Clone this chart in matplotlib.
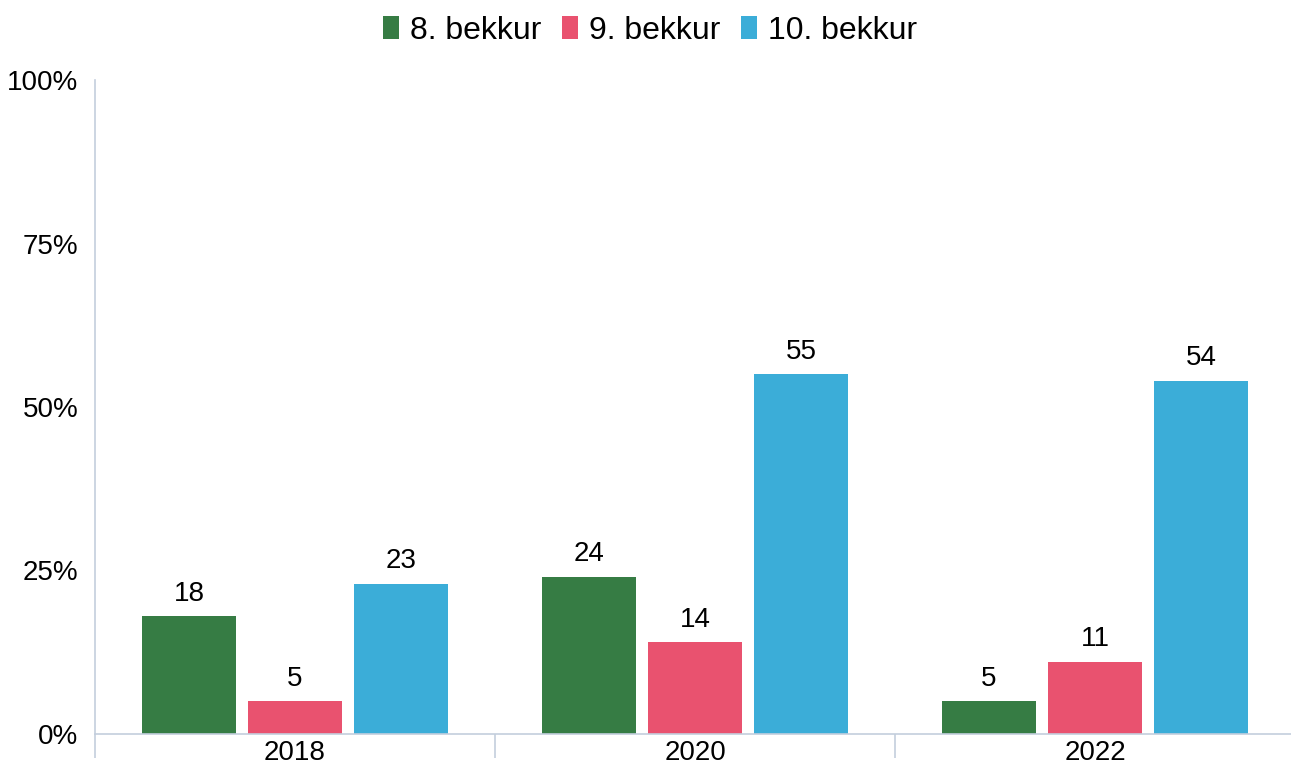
import numpy as np
import matplotlib.pyplot as plt

plt.rcParams['font.family'] = ['Liberation Sans', 'DejaVu Sans']

# data
years = ['2018', '2020', '2022']
series = ['8. bekkur', '9. bekkur', '10. bekkur']
bekkur8 = [18, 24, 5]
bekkur9 = [5, 14, 11]
bekkur10 = [23, 55, 54]
colors = ['#367c44', '#e9526f', '#3badd8']

axis_col = '#c3cedd'

fig = plt.figure(figsize=(12.91, 7.64), dpi=100)
W, H = 1291, 764
ax = fig.add_axes([95 / W, (H - 734) / H, 1200 / W, (734 - 80) / H])

x = np.arange(len(years))
bw = 0.235
step = 0.265
for i, (vals, name, c) in enumerate(zip([bekkur8, bekkur9, bekkur10], series, colors)):
    xs = x + (i - 1) * step
    ax.bar(xs, vals, width=bw, color=c, label=name, zorder=2)
    for xx, v in zip(xs, vals):
        ax.annotate(str(v), (xx, v), xytext=(0, 7), textcoords='offset points',
                    ha='center', va='bottom', fontsize=20)

ax.set_xlim(-0.5, 2.5)
ax.set_ylim(0, 100)
ax.set_yticks([0, 25, 50, 75, 100])
ax.set_yticklabels(['0%', '25%', '50%', '75%', '100%'], fontsize=20)
ax.tick_params(axis='y', length=0, pad=12)

ax.set_xticks(x)
ax.set_xticklabels(years, fontsize=20)
ax.tick_params(axis='x', length=0, pad=4)
ax.set_xticks([-0.5, 0.5, 1.5, 2.5], minor=True)
ax.tick_params(axis='x', which='minor', length=17, width=1.2, color=axis_col, direction='out')

for s in ['top', 'right']:
    ax.spines[s].set_visible(False)
for s in ['left', 'bottom']:
    ax.spines[s].set_color(axis_col)
    ax.spines[s].set_linewidth(1.2)

ax.legend(loc='upper center', bbox_to_anchor=(0.4625, 1.142), ncol=3, frameon=False,
          fontsize=23, handlelength=0.5, handleheight=0.75, handletextpad=0.35,
          columnspacing=0.65)

fig.savefig('out.png', dpi=100)
